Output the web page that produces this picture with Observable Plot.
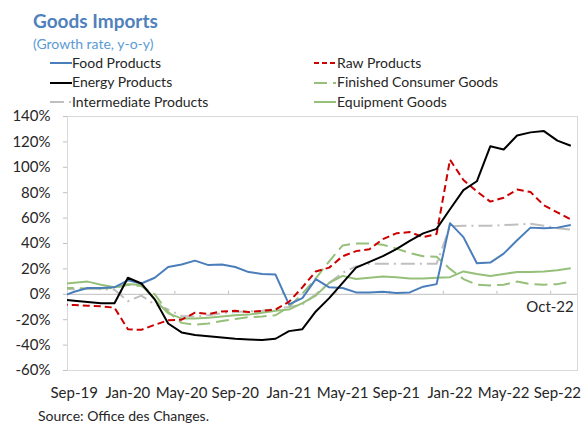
<!DOCTYPE html>
<html><head><meta charset="utf-8">
<script src="https://cdn.jsdelivr.net/npm/d3@7"></script>
<script src="https://cdn.jsdelivr.net/npm/@observablehq/plot@0.6"></script>
<style>
body{margin:0;background:#fff;font-family:Lato,"Open Sans",sans-serif;}
#wrap{position:relative;width:582px;height:426px;overflow:hidden;background:#fff}
#chart{position:absolute;left:0;top:0}
.t{position:absolute;white-space:nowrap;line-height:1;color:#262626}
#title{left:33px;top:11px;font-size:19px;font-weight:bold;color:#4F81BD}
#subtitle{left:33px;top:37px;font-size:14px;color:#5B9BD5}
#source{left:38px;top:409px;font-size:14px}
.lg{position:absolute;font-size:14px;line-height:1;white-space:nowrap;color:#262626}
.sw{position:absolute}
</style></head><body>
<div id="wrap">
  <div id="chart"></div>
  <div class="t" id="title">Goods Imports</div>
  <div class="t" id="subtitle">(Growth rate, y-o-y)</div>
  <div id="legend"></div>
  <div class="t" id="source">Source: Office des Changes.</div>
</div>
<script>
// Months (Aug-19 is only partly visible at the left edge of the plot)
const months = ["Aug-19","Sep-19","Oct-19","Nov-19","Dec-19",
  "Jan-20","Feb-20","Mar-20","Apr-20","May-20","Jun-20","Jul-20","Aug-20","Sep-20","Oct-20","Nov-20","Dec-20",
  "Jan-21","Feb-21","Mar-21","Apr-21","May-21","Jun-21","Jul-21","Aug-21","Sep-21","Oct-21","Nov-21","Dec-21",
  "Jan-22","Feb-22","Mar-22","Apr-22","May-22","Jun-22","Jul-22","Aug-22","Sep-22","Oct-22"];
const tickLabels = ["Sep-19","Jan-20","May-20","Sep-20","Jan-21","May-21","Sep-21","Jan-22","May-22","Sep-22"];
const yTicks = [-60,-40,-20,0,20,40,60,80,100,120,140];
const endLabel = "Oct-22";

const food = [-2,2,5,5,5.5, 11,8.5,13,21.5,23.5,26.5,23,23.5,21.5,17.5,16,15.5,
  -8,-3,12,5.5,5,1.5,1.5,2,1,1.5,6,8, 56,45,24.5,25,32,42.5,52.5,52,52.5,54.5];
const raw = [-8,-8.5,-9,-9.5,-10.5, -27.5,-28,-24,-20.5,-20,-14.5,-15.5,-13.5,-13,-14,-13,-12,
  -6,5.5,18,21,30,34,35.5,43.5,48,49,45,47.5, 106,90,81,73,76,82.5,80.5,70,64.5,59];
const energy = [-4,-5,-6,-7,-7, 13,8.5,-4,-23,-30,-32,-33,-34,-35,-35.5,-36,-35,
  -29,-27.5,-13.5,-3,9,21,25.5,30,35.5,42,48,51.5, 67,82,89,116.5,114,125,127.5,128.5,121,117];
const finished = [5,5,4.5,4.5,5, 7.5,6.5,0,-14,-22.5,-24,-23,-21,-19.5,-18,-17.5,-16.5,
  -10,0.5,12.5,26,38.5,40,40,39,36,32.5,30,29.5, 20,12,7.5,7,7.5,10,8,7.5,8,10];
const intermediate = [4.5,4,4.5,4,3.5, -5.5,-1,-8,-12,-17,-17.5,-16.5,-15,-14,-13.5,-13,-11.5,
  -10,-8,0,9,17,22,24,24,24,24,24,24, 53.5,54,54,54,54.5,55,55.5,54,52,51];
const equipment = [8,9,10,7.5,5.5, 8,7.5,-4,-15,-19,-19,-18.5,-17.5,-16.5,-16,-14.5,-13,
  -12,-7,-1,9,14.5,12,13,14,13.5,12.5,12.5,13, 13.5,18,16,14.5,16,17.5,17.5,18,19,20.5];

const seriesNames = ["Food Products","Raw Products","Energy Products","Finished Consumer Goods","Intermediate Products","Equipment Goods"];
const seriesValues = [food, raw, energy, finished, intermediate, equipment];
const seriesColors = ["#4A7EBB","#CC0000","#000000","#96C07A","#BFBFBF","#96C07A"];
const seriesDash = [null,"7,4",null,"13,6","14,5,2,5",null];
const drawOrder = [4,3,5,0,1,2];

const rows = [];
seriesNames.forEach((name,s)=>seriesValues[s].forEach((v,k)=>rows.push({name,k,v})));

const tickKs = tickLabels.map(l=>months.indexOf(l));
const boundaries = tickKs.slice(1).map(k=>k-0.5);

const marks = [
  Plot.frame({stroke:"#D9D9D9"}),
  Plot.ruleY([0],{stroke:"#BFBFBF"}),
  Plot.ruleX(boundaries,{x:d=>d, y1:()=>0, y2:()=>2.4, stroke:"#BFBFBF"}),
  Plot.axisY(yTicks,{label:null, tickFormat:d=>d+"%", tickSize:4, tickPadding:13, fontSize:15, stroke:"#BFBFBF", fill:"#262626"}),
  Plot.axisX(tickKs,{label:null, tickFormat:k=>months[k], tickSize:0, tickPadding:17, fontSize:15, fill:"#262626"}),
  ...drawOrder.map(s=>Plot.line(rows.filter(r=>r.name===seriesNames[s]),{
    x:"k", y:"v", stroke:seriesColors[s], strokeWidth:2,
    strokeDasharray:seriesDash[s]||undefined, strokeLinejoin:"round", strokeLinecap:"butt", clip:true})),
  Plot.text([months.indexOf(endLabel)],{x:d=>d, y:()=>0, text:d=>months[d], textAnchor:"end", dx:3, dy:13, fontSize:15, fill:"#262626"})
];

const chart = Plot.plot({
  width:582, height:426,
  marginLeft:67, marginRight:5, marginTop:116, marginBottom:56,
  x:{type:"linear", domain:[0.5, months.length-0.5], axis:null, label:null},
  y:{domain:[-60,140], axis:null, label:null},
  style:{fontFamily:"Lato, 'Open Sans', sans-serif", fontSize:"15px", background:"transparent", color:"#262626", overflow:"visible"},
  marks
});
document.getElementById("chart").appendChild(chart);

// Legend (two columns, three rows)
const legendOrder = [0,1,2,3,4,5];
const colX = [[50,72],[314,337]];
const rowBase = [68.3,87.5,107];
const lg = document.getElementById("legend");
legendOrder.forEach((s,i)=>{
  const col = i%2, row = Math.floor(i/2);
  const [lx,tx] = colX[col];
  const y = rowBase[row];
  const sw = document.createElementNS("http://www.w3.org/2000/svg","svg");
  sw.setAttribute("class","sw");
  sw.setAttribute("width",22); sw.setAttribute("height",6);
  sw.style.left = lx+"px"; sw.style.top = (y-5-3)+"px";
  const ln = document.createElementNS("http://www.w3.org/2000/svg","line");
  ln.setAttribute("x1",0); ln.setAttribute("x2",22); ln.setAttribute("y1",3); ln.setAttribute("y2",3);
  ln.setAttribute("stroke",seriesColors[s]); ln.setAttribute("stroke-width",2);
  if (seriesDash[s]) ln.setAttribute("stroke-dasharray", s===1 ? "5,3" : seriesDash[s]);
  sw.appendChild(ln);
  lg.appendChild(sw);
  const d = document.createElement("div");
  d.className="lg"; d.textContent = seriesNames[s];
  d.style.left = tx+"px"; d.style.top = (y-12.4)+"px";
  lg.appendChild(d);
});
</script>
</body></html>
